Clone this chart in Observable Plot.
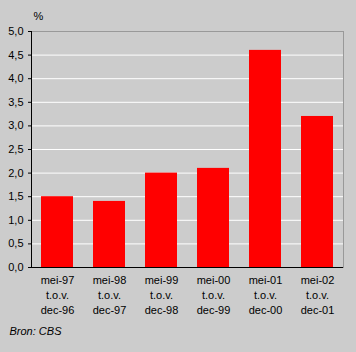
<!DOCTYPE html>
<html>
<head>
<meta charset="utf-8">
<script src="https://cdn.jsdelivr.net/npm/d3@7"></script>
<script src="https://cdn.jsdelivr.net/npm/@observablehq/plot@0.6"></script>
<style>
  html, body { margin: 0; padding: 0; background: #cccccc; }
</style>
</head>
<body>
<div id="chart"></div>
<script>
const periods = ["mei-97\nt.o.v.\ndec-96", "mei-98\nt.o.v.\ndec-97", "mei-99\nt.o.v.\ndec-98", "mei-00\nt.o.v.\ndec-99", "mei-01\nt.o.v.\ndec-00", "mei-02\nt.o.v.\ndec-01"];
const values = [1.5, 1.4, 2.0, 2.1, 4.6, 3.2];
const yTicks = [0, 0.5, 1, 1.5, 2, 2.5, 3, 3.5, 4, 4.5, 5];
const gridTicks = [0.5, 1, 1.5, 2, 2.5, 3, 3.5, 4, 4.5];
const unitLabel = ["%"];
const source = ["Bron: CBS"];

const data = periods.map((p, i) => ({period: p, value: values[i]}));

const chart = Plot.plot({
  width: 356,
  height: 352,
  marginTop: 31,
  marginBottom: 85,
  marginLeft: 31,
  marginRight: 13,
  style: {fontFamily: "'Liberation Sans', Arial, sans-serif", fontSize: "11px", background: "#cccccc", color: "black"},
  x: {domain: periods, paddingInner: 0.385, paddingOuter: 0.1923},
  y: {domain: [0, 5]},
  marks: [
    Plot.frame({stroke: "#999999"}),
    Plot.gridY(gridTicks, {stroke: "white", strokeOpacity: 1}),
    Plot.barY(data, {x: "period", y: "value", fill: "#ff0000"}),
    Plot.ruleY([0], {stroke: "black"}),
    Plot.frame({anchor: "left", stroke: "black"}),
    Plot.axisY({ticks: yTicks, tickFormat: d => d.toFixed(1).replace(".", ","), tickSize: 3, tickPadding: 5, label: null, stroke: "black", fill: "black"}),
    Plot.axisX({tickSize: 0, tickPadding: 6, lineHeight: 1.36, label: null, fill: "black"}),
    Plot.text(unitLabel, {frameAnchor: "top-left", dx: 2, dy: -19, lineAnchor: "top", textAnchor: "start", fill: "black"}),
    Plot.text(source, {frameAnchor: "bottom-left", dx: -22, dy: 67, textAnchor: "start", fontStyle: "italic", fill: "black"})
  ]
});
document.getElementById("chart").appendChild(chart);
</script>
</body>
</html>
